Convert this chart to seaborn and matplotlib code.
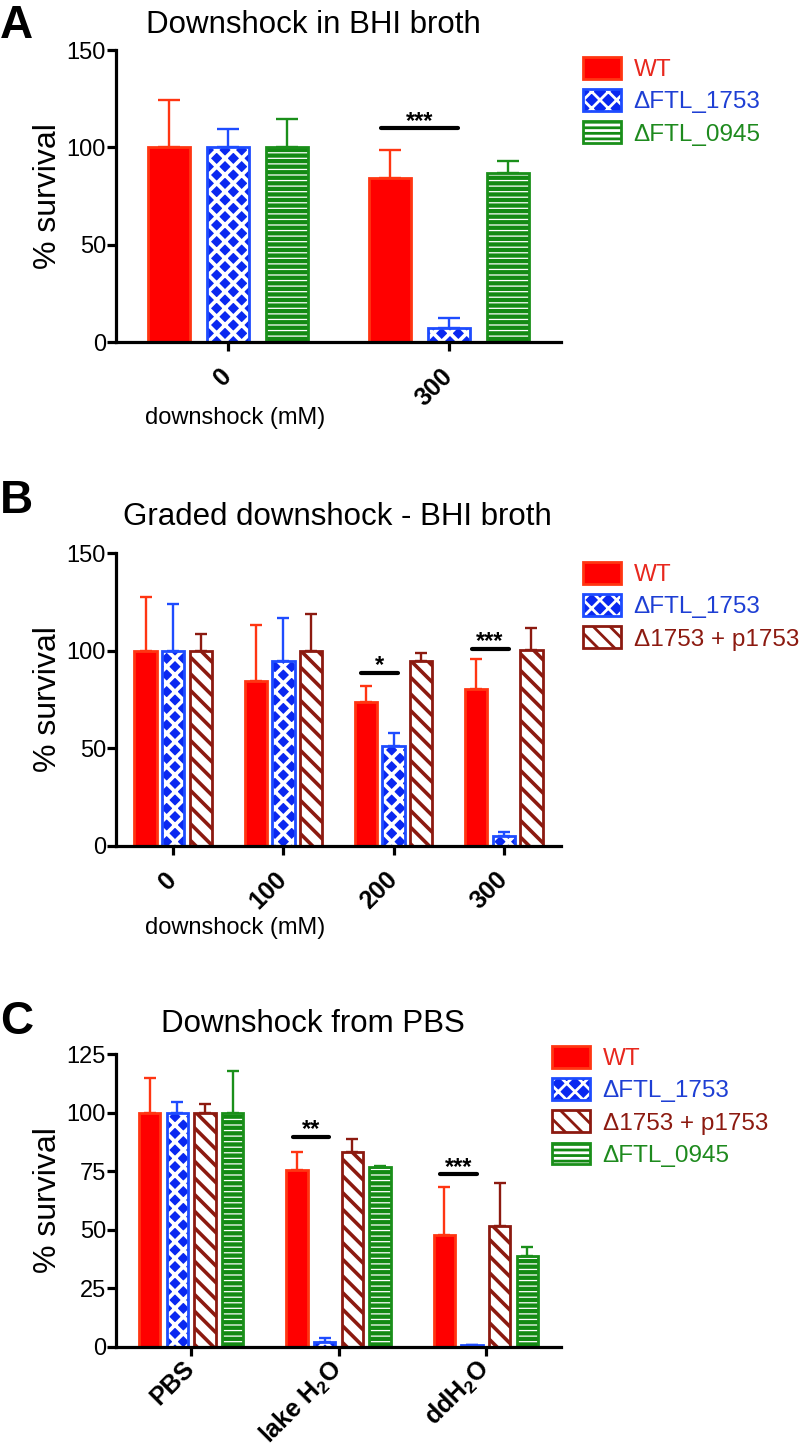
import numpy as np
import pandas as pd
import matplotlib
matplotlib.use("Agg")
import matplotlib.pyplot as plt
import matplotlib.patches as mpatches
import matplotlib.colors as mcolors
import seaborn as sns

sns.set_theme(style="ticks")
plt.rcParams['font.family'] = ['Liberation Sans', 'DejaVu Sans']
plt.rcParams['mathtext.default'] = 'regular'
plt.rcParams['hatch.linewidth'] = 2.0
for key in ['text.color', 'axes.labelcolor', 'xtick.color', 'ytick.color', 'axes.edgecolor']:
    plt.rcParams[key] = 'black'

# --- data ---
a_groups = ["0", "300"]
a_wt = [100, 84.1]
a_wt_err = [24.3, 14.7]
a_1753 = [100, 7.0]
a_1753_err = [9.4, 5.2]
a_0945 = [100, 87.0]
a_0945_err = [14.6, 6.2]
a_sig = [(1, 109.8, "***")]

b_groups = ["0", "100", "200", "300"]
b_wt = [100, 84.5, 73.5, 80.4]
b_wt_err = [27.8, 28.7, 8.4, 15.4]
b_1753 = [100, 94.8, 51.3, 5.1]
b_1753_err = [23.8, 21.9, 6.3, 1.7]
b_comp = [100, 100, 94.8, 100.4]
b_comp_err = [8.6, 18.9, 4.2, 11.5]
b_sig = [(2, 88.6, "*"), (3, 100.9, "***")]

c_groups = ["PBS", "lake", "dd"]
c_ticklabels = ["PBS", "lake H$_2$O", "ddH$_2$O"]
c_wt = [100, 75.5, 47.7]
c_wt_err = [15.0, 7.6, 20.7]
c_1753 = [100, 2.0, 0.7]
c_1753_err = [4.8, 1.6, 0.0]
c_comp = [100, 83.1, 51.7]
c_comp_err = [3.6, 5.7, 18.4]
c_0945 = [100, 76.9, 38.8]
c_0945_err = [17.9, 0.3, 4.0]
c_sig = [(1, 89.8, "**"), (2, 73.7, "***")]

WT, D1753, COMP, D0945 = "WT", "ΔFTL_1753", "Δ1753 + p1753", "ΔFTL_0945"

STYLE = {
    WT: dict(face="#FF0000", edge="#FF3512", hatch=None, hcol=None, hlw=None, text="#E8281E"),
    D1753: dict(face="#0A28F0", edge="#1E4CFF", hatch="xx", hcol="white", hlw=2.7, text="#1E3FD4"),
    COMP: dict(face="white", edge="#8C1A10", hatch="\\\\", hcol="#8C1A10", hlw=2.6, text="#8C1A10"),
    D0945: dict(face="#138A13", edge="#1A8F1A", hatch="---", hcol="white", hlw=0.9, text="#1E8A1E"),
}


def style_patch(p, s, lw=2.0):
    st = STYLE[s]
    p.set_facecolor(st['face'])
    p.set_linewidth(lw)
    if st['hatch']:
        p.set_hatch(st['hatch'])
        if hasattr(p, 'set_hatch_linewidth'):
            p.set_hatch_linewidth(st['hlw'])
        if hasattr(p, 'set_hatchcolor'):
            p.set_edgecolor(st['edge'])
            p.set_hatchcolor(st['hcol'])
        else:
            # hatch colour follows the edge colour, so set it first and patch the edge back
            p.set_edgecolor(st['hcol'])
            p._edgecolor = mcolors.to_rgba(st['edge'])
    else:
        p.set_edgecolor(st['edge'])


def draw_panel(ax, groups, strains, values, errors, width, gap, xlim, ylim, yticks, capsize, sigs):
    rows = []
    for s, vals in zip(strains, values):
        for g, v in zip(groups, vals):
            rows.append({"group": g, "strain": s, "value": v})
    df = pd.DataFrame(rows)
    sns.barplot(data=df, x="group", y="value", hue="strain", order=groups, hue_order=strains,
                width=width, gap=gap, errorbar=None, legend=False, ax=ax)

    for s, cont, errs in zip(strains, ax.containers, errors):
        xs, ys = [], []
        for p in cont.patches:
            style_patch(p, s)
            xs.append(p.get_x() + p.get_width() / 2)
            ys.append(p.get_height())
        ax.errorbar(xs, ys, yerr=[np.zeros(len(errs)), errs], fmt='none',
                    ecolor=STYLE[s]['edge'], elinewidth=1.7, capsize=capsize,
                    capthick=1.7, zorder=0.9, clip_on=False)

    # significance bars between WT and the 1753 mutant
    for gi, y, label in sigs:
        p1 = ax.containers[0].patches[gi]
        p2 = ax.containers[1].patches[gi]
        w = p1.get_width()
        x1 = p1.get_x() + w / 2 - 0.21 * w
        x2 = p2.get_x() + w / 2 + 0.21 * w
        ax.plot([x1, x2], [y, y], color='black', lw=3, solid_capstyle='round', clip_on=False)
        ax.annotate(label, ((x1 + x2) / 2, y), xytext=(0, 0.5), textcoords='offset points',
                    ha='center', va='baseline', fontsize=17, fontweight='bold', color='black')

    ax.set_xlim(*xlim)
    ax.set_ylim(*ylim)
    ax.set_yticks(yticks)
    sns.despine(ax=ax)
    for sp in ['left', 'bottom']:
        ax.spines[sp].set_linewidth(2.3)
        ax.spines[sp].set_color('black')
    ax.tick_params(axis='both', width=2.3, length=6.8, color='black', direction='out')
    ax.tick_params(axis='y', labelsize=17, pad=0.5, labelcolor='black')
    ax.tick_params(axis='x', pad=15, labelcolor='black')
    ax.set_xlabel("")
    ax.set_ylabel("% survival", fontsize=23, color='black')
    ax.yaxis.set_label_coords(-0.118, 0.5)
    ax.grid(False)


def add_legend(fig, strains, x, y):
    handles = []
    for s in strains:
        h = mpatches.Patch(label=s)
        style_patch(h, s)
        handles.append(h)
    fig.legend(handles=handles, labels=strains, loc='upper left',
               bbox_to_anchor=(x / 800, 1 - y / 1456), frameon=False,
               borderpad=0, borderaxespad=0, fontsize=17.5,
               handlelength=1.58, handleheight=1.0, handletextpad=0.5,
               labelspacing=0.33, labelcolor=[STYLE[s]['text'] for s in strains])


fig = plt.figure(figsize=(8, 14.56), dpi=100)

ax_a = fig.add_axes([116 / 800, 0.7651, 445 / 800, 0.2005])
ax_b = fig.add_axes([116 / 800, 0.4192, 445 / 800, 0.2008])
ax_c = fig.add_axes([116 / 800, 0.0751, 445 / 800, 0.2008])

draw_panel(ax_a, a_groups, [WT, D1753, D0945], [a_wt, a_1753, a_0945],
           [a_wt_err, a_1753_err, a_0945_err], width=0.8, gap=0.29,
           xlim=(-0.507, 1.507), ylim=(0, 150), yticks=[0, 50, 100, 150],
           capsize=7.8, sigs=a_sig)
draw_panel(ax_b, b_groups, [WT, D1753, COMP], [b_wt, b_1753, b_comp],
           [b_wt_err, b_1753_err, b_comp_err], width=0.75, gap=0.19,
           xlim=(-0.518, 3.518), ylim=(0, 150), yticks=[0, 50, 100, 150],
           capsize=4.5, sigs=b_sig)
draw_panel(ax_c, c_groups, [WT, D1753, COMP, D0945], [c_wt, c_1753, c_comp, c_0945],
           [c_wt_err, c_1753_err, c_comp_err, c_0945_err], width=0.75, gap=0.22,
           xlim=(-0.51, 2.51), ylim=(0, 125), yticks=[0, 25, 50, 75, 100, 125],
           capsize=4.5, sigs=c_sig)
# panel C labels sit closer to the axis
ax_c.tick_params(axis='x', pad=6.5)

for ax, labels in [(ax_a, a_groups), (ax_b, b_groups), (ax_c, c_ticklabels)]:
    ax.set_xticks(range(len(labels)))
    ax.set_xticklabels(labels, rotation=45, ha='right', va='center', rotation_mode='anchor',
                       fontsize=18, fontweight='bold', color='black')

# x axis titles
fig.text(235 / 800, 1 - 418 / 1456, "downshock (mM)", ha='center', va='center', fontsize=17)
fig.text(235 / 800, 1 - 928 / 1456, "downshock (mM)", ha='center', va='center', fontsize=17)

# panel titles and letters
fig.text(313 / 800, 1 - 33 / 1456, "Downshock in BHI broth", ha='center', va='baseline', fontsize=22.5)
fig.text(337 / 800, 1 - 525 / 1456, "Graded downshock - BHI broth", ha='center', va='baseline', fontsize=22.5)
fig.text(313 / 800, 1 - 1031.5 / 1456, "Downshock from PBS", ha='center', va='baseline', fontsize=22.5)
fig.text(0.0, 1 - 38 / 1456, "A", ha='left', va='baseline', fontsize=33, fontweight='bold')
fig.text(0.0, 1 - 513 / 1456, "B", ha='left', va='baseline', fontsize=33, fontweight='bold')
fig.text(0.0, 1 - 1034 / 1456, "C", ha='left', va='baseline', fontsize=33, fontweight='bold')

add_legend(fig, [WT, D1753, D0945], 583, 57)
add_legend(fig, [WT, D1753, COMP], 583, 562)
add_legend(fig, [WT, D1753, COMP, D0945], 552, 1046)

fig.savefig("out.png", dpi=100)
